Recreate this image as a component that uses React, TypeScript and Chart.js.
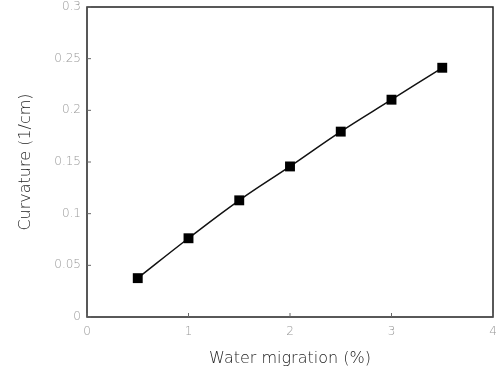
import React, { useEffect, useRef } from "react";
import { Chart, registerables } from "chart.js";
Chart.register(...registerables);

const migration = [0.5, 1, 1.5, 2, 2.5, 3, 3.5];
const curvature = [0.0376, 0.0762, 0.1129, 0.1457, 0.1794, 0.2103, 0.2412];
const xTicks = [0, 1, 2, 3, 4];
const yTicks = [0, 0.05, 0.1, 0.15, 0.2, 0.25, 0.3];

const framePlugin = {
  id: "frame",
  afterDraw(chart: any) {
    const { ctx, chartArea: a, scales } = chart;
    ctx.save();
    ctx.strokeStyle = "#222";
    ctx.lineWidth = 1.5;
    ctx.strokeRect(a.left, a.top, a.right - a.left, a.bottom - a.top);
    ctx.lineWidth = 1;
    ctx.strokeStyle = "#666";
    for (const v of xTicks) {
      const x = scales.x.getPixelForValue(v);
      ctx.beginPath();
      ctx.moveTo(x, a.bottom);
      ctx.lineTo(x, a.bottom - 4);
      ctx.stroke();
    }
    for (const v of yTicks) {
      const y = scales.y.getPixelForValue(v);
      ctx.beginPath();
      ctx.moveTo(a.left, y);
      ctx.lineTo(a.left + 4, y);
      ctx.stroke();
    }
    ctx.restore();
  },
};

const FONT = "DejaVu Sans";

export default function App() {
  const ref = useRef<HTMLCanvasElement>(null);
  useEffect(() => {
    const chart = new Chart(ref.current!, {
      type: "scatter",
      data: {
        datasets: [
          {
            data: migration.map((x, i) => ({ x, y: curvature[i] })),
            showLine: true,
            borderColor: "#111",
            borderWidth: 1.5,
            tension: 0.4,
            pointStyle: "rect",
            pointRadius: 7,
            pointHoverRadius: 7,
            pointBackgroundColor: "#000",
            pointBorderColor: "#000",
            pointBorderWidth: 0,
          },
        ],
      },
      options: {
        animation: false,
        responsive: false,
        layout: { padding: { top: 6, right: 4, left: 0, bottom: 0 } },
        plugins: { legend: { display: false }, tooltip: { enabled: false } },
        scales: {
          x: {
            type: "linear",
            min: 0,
            max: 4,
            afterBuildTicks: (s: any) => {
              s.ticks = xTicks.map((v) => ({ value: v }));
            },
            afterFit: (s: any) => {
              s.height = 55;
              s.paddingLeft = 0;
              s.paddingRight = 0;
            },
            grid: { display: false, drawTicks: false, tickLength: 0 },
            border: { display: false },
            ticks: {
              color: "#999",
              padding: 8,
              font: { family: FONT, size: 12, weight: "200" },
              callback: (v: any) => String(v),
            },
            title: {
              display: true,
              text: "Water migration (%)",
              color: "#222",
              font: { family: FONT, size: 16, weight: "200" },
              padding: { top: 4 },
            },
          },
          y: {
            type: "linear",
            min: 0,
            max: 0.3,
            afterBuildTicks: (s: any) => {
              s.ticks = yTicks.map((v) => ({ value: v }));
            },
            afterFit: (s: any) => {
              s.width = 87;
              s.paddingTop = 0;
              s.paddingBottom = 0;
            },
            grid: { display: false, drawTicks: false, tickLength: 0 },
            border: { display: false },
            ticks: {
              color: "#999",
              padding: 6,
              font: { family: FONT, size: 12, weight: "200" },
              callback: (v: any) => String(Math.round(Number(v) * 100) / 100),
            },
            title: {
              display: true,
              text: "Curvature (1/cm)",
              color: "#222",
              font: { family: FONT, size: 16, weight: "200" },
              padding: { top: 16, bottom: 0 },
            },
          },
        },
      },
      plugins: [framePlugin],
    });
    return () => chart.destroy();
  }, []);
  return (
    <div style={{ position: "absolute", left: 0, top: 0, width: 500, height: 372, background: "#fff" }}>
      <canvas ref={ref} width={500} height={372} />
    </div>
  );
}
